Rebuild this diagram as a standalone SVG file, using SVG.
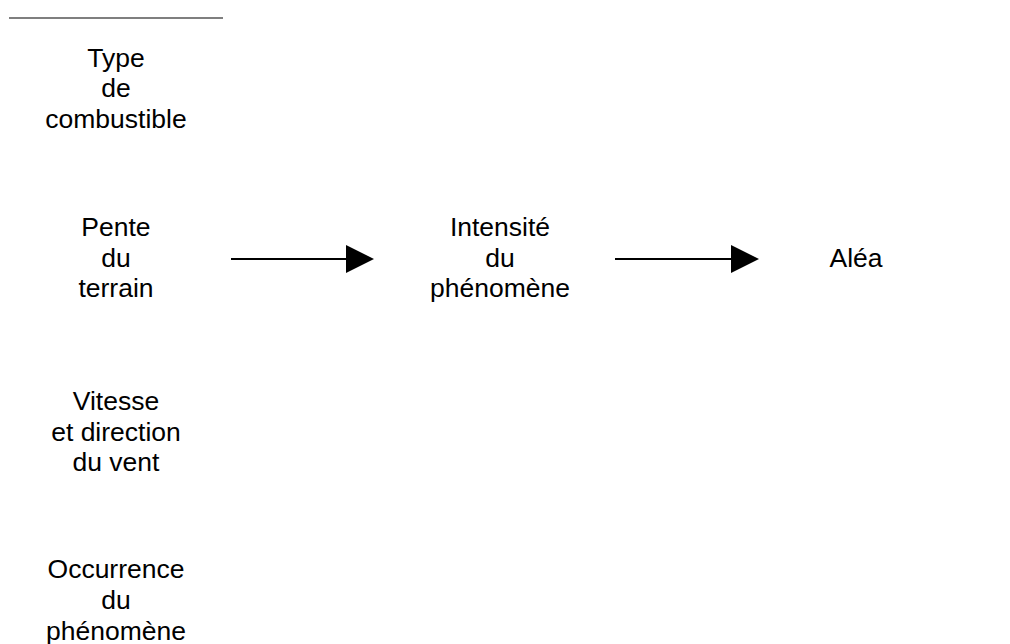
<svg xmlns="http://www.w3.org/2000/svg" width="1010" height="644" viewBox="0 0 1010 644">
<style>
text{font-family:"Liberation Sans",Arial,sans-serif;font-size:26.5px;fill:#000;text-anchor:middle}
.c line{stroke:#000;stroke-width:2}
</style>
<rect width="1010" height="644" fill="#fff"/>
<line x1="9" y1="18" x2="223" y2="18" stroke="#555" stroke-width="1.5"/>
<g id="type"><text x="116" y="67">Type</text><text x="116" y="97">de</text><text x="116" y="128">combustible</text></g>
<g id="pente"><text x="116" y="236">Pente</text><text x="116" y="267">du</text><text x="116" y="297">terrain</text></g>
<g id="intensite"><text x="500" y="236">Intensité</text><text x="500" y="267">du</text><text x="500" y="297">phénomène</text></g>
<g id="alea"><text x="856" y="267">Aléa</text></g>
<g id="vitesse"><text x="116" y="410">Vitesse</text><text x="116" y="441">et direction</text><text x="116" y="471">du vent</text></g>
<g id="occurrence"><text x="116" y="578">Occurrence</text><text x="116" y="609">du</text><text x="116" y="640">phénomène</text></g>
<g id="connectors" class="c">
<line x1="231" y1="259" x2="347" y2="259"/><polygon points="346,245 374,259 346,273" fill="#000"/>
<line x1="615" y1="259" x2="732" y2="259"/><polygon points="731,245 759,259 731,273" fill="#000"/>
</g>
</svg>
